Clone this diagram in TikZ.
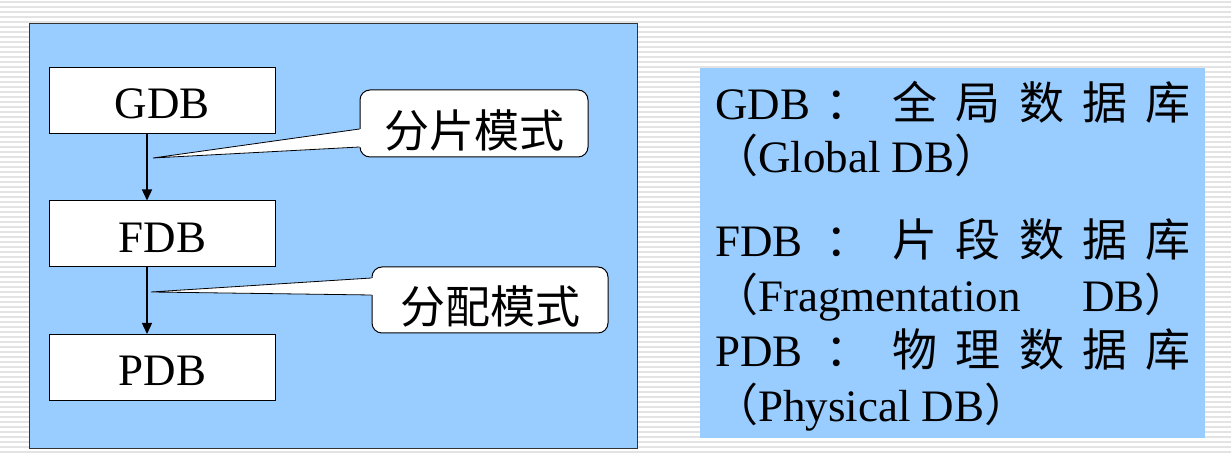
\documentclass[tikz,border=0pt]{standalone}
\usepackage{fontspec}
\setmainfont{Liberation Serif}
\newfontfamily\cjk{Noto Sans CJK SC}
\usetikzlibrary{arrows.meta}

\definecolor{skyblue}{HTML}{99CCFF}
\newcommand{\cnlp}{{\cjk （}}
\newcommand{\cnrp}{{\cjk ）}}

\begin{document}
\begin{tikzpicture} [
    x=1pt, y=1pt,
    font=\fontsize{45}{54}\selectfont,
    stripe/.style   = { draw=black!11, line width=1.6pt },
    block/.style    = { rectangle, draw, fill=white, line width=1pt, inner sep=0pt,
                        minimum width=225pt, minimum height=66pt,
                        text height=37pt, text depth=0pt },
    callout/.style  = { rectangle, draw, fill=white, rounded corners=10pt,
                        line width=1pt, inner sep=0pt, font=\fontsize{45}{54}\cjk,
                        text height=48pt, text depth=0pt },
    pointer/.style  = { draw, line width=0.8pt },
    line/.style     = { draw, line width=1.3pt, -{Triangle[length=11pt,width=10pt]} },
    key/.style      = { anchor=base west, inner sep=0pt },
    keychar/.style  = { anchor=base, inner sep=0pt, font=\fontsize{45}{54}\cjk },
  ]
  \useasboundingbox (0,0) rectangle (1231,454);

  % striped slide background
  \fill[white] (0,0) rectangle (1231,454);
  \foreach \y in {2,7,...,454}
    \draw[stripe] (0,\y) -- (1231,\y);

  % the two panels
  \path[fill=skyblue, draw=black!80, line width=1pt] (29,5) rectangle (637,430);
  \fill[skyblue] (700,16) rectangle (1205,386);

  % Define nodes in matrix
  \matrix (stack) at (162.5,220) [row sep=66.5pt] {
    \node[block](gdb){GDB}; \\
    \node[block](fdb){FDB}; \\
    \node[block](pdb){PDB}; \\
  };

  % connect the nodes
  \path [line] ([xshift=-15.5pt]gdb.south) -- ([xshift=-15.5pt]fdb.north);
  \path [line] ([xshift=-15.5pt]fdb.south) -- ([xshift=-15.5pt]pdb.north);

  % callouts
  \node[callout, minimum width=228pt, minimum height=67pt] (frag) at (474,330.5) {分片模式};
  \node[callout, minimum width=236pt, minimum height=66pt] (alloc) at (490,154) {分配模式};
  \coordinate (fragtip) at (153,296);
  \coordinate (alloctip) at (151,162);

  \fill[white] ([xshift=2pt,yshift=-5.5pt]frag.west) -- (fragtip) -- ([xshift=2pt,yshift=-23.5pt]frag.west) -- cycle;
  \path[pointer] ([yshift=-5.5pt]frag.west) -- (fragtip) -- ([yshift=-23.5pt]frag.west);
  \fill[white] ([xshift=2pt,yshift=22pt]alloc.west) -- (alloctip) -- ([xshift=2pt,yshift=5pt]alloc.west) -- cycle;
  \path[pointer] ([yshift=22pt]alloc.west) -- (alloctip) -- ([yshift=5pt]alloc.west);

  % legend on the right
  \node[key] (gdbkey) at (715,334) {GDB};
  \node[keychar] (gdbcolon) at (848,334) {：};
  \foreach \c [count=\i] in {全,局,数,据,库}
    \node[keychar] (gdbchar\i) at (851.75+63.25*\i,334) {\c};
  \node[key] (gdbfull) at (713,281) {\cnlp Global DB\cnrp};

  \node[key] (fdbkey) at (715,197) {FDB};
  \node[keychar] (fdbcolon) at (848,197) {：};
  \foreach \c [count=\i] in {片,段,数,据,库}
    \node[keychar] (fdbchar\i) at (851.75+63.25*\i,197) {\c};
  \node[key] (fdbfull) at (713,142) {\cnlp Fragmentation};
  \node[key] (fdbtail) at (1082,142) {DB\cnrp};

  \node[key] (pdbkey) at (715,87) {PDB};
  \node[keychar] (pdbcolon) at (848,87) {：};
  \foreach \c [count=\i] in {物,理,数,据,库}
    \node[keychar] (pdbchar\i) at (851.75+63.25*\i,87) {\c};
  \node[key] (pdbfull) at (713,32) {\cnlp Physical DB\cnrp};
\end{tikzpicture}
\end{document}
